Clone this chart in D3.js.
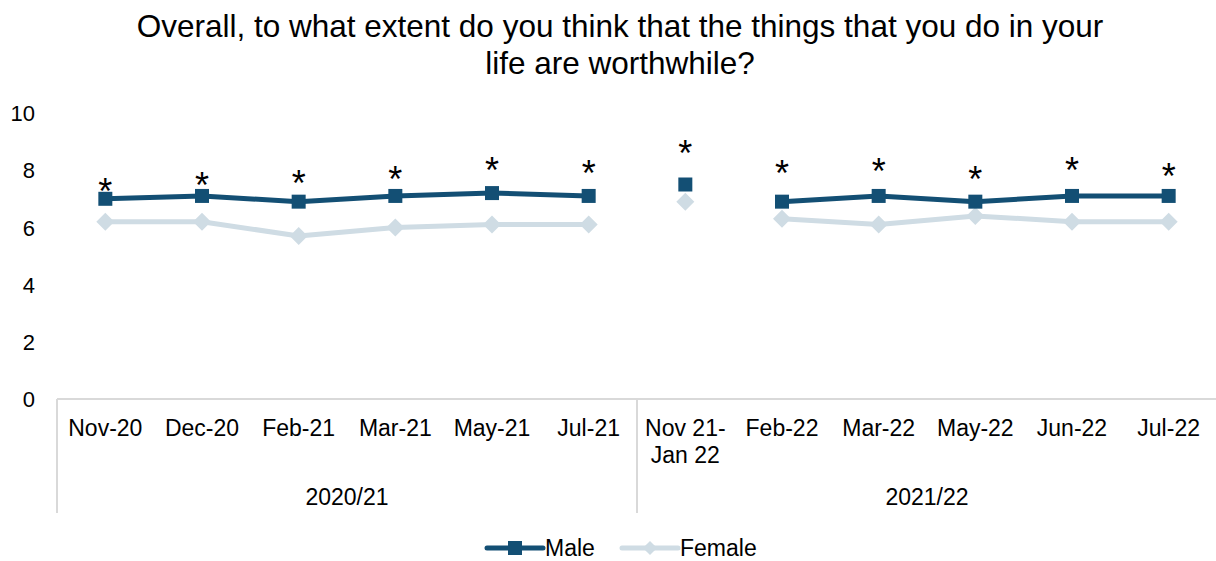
<!DOCTYPE html>
<html>
<head>
<meta charset="utf-8">
<script src="https://cdn.jsdelivr.net/npm/d3@7"></script>
<style>
  html, body { margin: 0; padding: 0; background: #fff; }
  svg { display: block; font-family: "Liberation Sans", Arial, sans-serif; }
</style>
</head>
<body>
<svg id="chart" width="1216" height="561"></svg>
<script>
// ---- data ----
const titleLines = ["Overall, to what extent do you think that the things that you do in your", "life are worthwhile?"];
const categories = ["Nov-20", "Dec-20", "Feb-21", "Mar-21", "May-21", "Jul-21", "Nov 21-\nJan 22", "Feb-22", "Mar-22", "May-22", "Jun-22", "Jul-22"];
const yearGroups = ["2020/21", "2020/21", "2020/21", "2020/21", "2020/21", "2020/21", "2021/22", "2021/22", "2021/22", "2021/22", "2021/22", "2021/22"];
const surveyWave = ["monthly", "monthly", "monthly", "monthly", "monthly", "monthly", "quarterly", "monthly", "monthly", "monthly", "monthly", "monthly"];
const maleValues = [7.0, 7.1, 6.9, 7.1, 7.2, 7.1, 7.5, 6.9, 7.1, 6.9, 7.1, 7.1];
const femaleValues = [6.2, 6.2, 5.7, 6.0, 6.1, 6.1, 6.9, 6.3, 6.1, 6.4, 6.2, 6.2];
const significant = [true, true, true, true, true, true, true, true, true, true, true, true];
const sigLabelLevel = [7.54, 7.74, 7.80, 7.96, 8.28, 8.15, 8.88, 8.18, 8.24, 7.95, 8.27, 8.07];
const yTicks = [0, 2, 4, 6, 8, 10];
const seriesNames = ["Male", "Female"];

// ---- styles ----
const maleColor = "#134f74";
const femaleColor = "#cfdce4";
const axisColor = "#d9d9d9";
const labelSize = 23;

const svg = d3.select("#chart");

const x = d3.scaleBand().domain(d3.range(categories.length)).range([57, 1217]).padding(0);
const y = d3.scaleLinear().domain([0, 10]).range([399, 113]);
const cx = i => x(i) + x.bandwidth() / 2;

// title
svg.append("g").selectAll("text").data(titleLines).join("text")
  .attr("x", 620).attr("y", (d, i) => 37 + i * 37)
  .attr("text-anchor", "middle").attr("font-size", 31.5).attr("fill", "#000")
  .text(d => d);

// y axis (labels only)
const yAxis = d3.axisLeft(y).tickValues(yTicks).tickSize(0).tickPadding(0).tickFormat(d3.format("d"));
const yg = svg.append("g").attr("transform", "translate(35,0)").call(yAxis);
yg.select(".domain").remove();
yg.selectAll("text").attr("font-size", 22).attr("font-family", "Liberation Sans, Arial, sans-serif").attr("fill", "#000").attr("dy", "0.35em");

// x axis line
svg.append("line").attr("x1", 57).attr("x2", 1217).attr("y1", y(0)).attr("y2", y(0))
  .attr("stroke", axisColor).attr("stroke-width", 2);

// group separators
const groupNames = Array.from(new Set(yearGroups));
const groupBounds = groupNames.map(g => {
  const idx = yearGroups.map((v, i) => v === g ? i : -1).filter(i => i >= 0);
  return { name: g, start: x(idx[0]), end: x(idx[idx.length - 1]) + x.bandwidth() };
});
const sepXs = [groupBounds[0].start, ...groupBounds.map(b => b.end)];
svg.append("g").selectAll("line").data(sepXs).join("line")
  .attr("x1", d => d).attr("x2", d => d).attr("y1", y(0)).attr("y2", 513)
  .attr("stroke", axisColor).attr("stroke-width", 2);

// category labels
const catG = svg.append("g").selectAll("text").data(categories).join("text")
  .attr("x", (d, i) => cx(i)).attr("y", 436)
  .attr("text-anchor", "middle").attr("font-size", labelSize).attr("fill", "#000");
catG.each(function(d, i) {
  const parts = d.split("\n");
  d3.select(this).selectAll("tspan").data(parts).join("tspan")
    .attr("x", cx(i)).attr("dy", (p, j) => j === 0 ? 0 : 27).text(p => p);
});

// group labels
svg.append("g").selectAll("text").data(groupBounds).join("text")
  .attr("x", d => (d.start + d.end) / 2).attr("y", 505)
  .attr("text-anchor", "middle").attr("font-size", labelSize).attr("fill", "#000")
  .text(d => d.name);

// line segments: consecutive monthly points within the same year group
function segments(values) {
  const segs = [];
  let cur = [];
  values.forEach((v, i) => {
    const ok = surveyWave[i] === "monthly";
    const sameGroup = cur.length && yearGroups[cur[cur.length - 1]] === yearGroups[i];
    if (ok && (cur.length === 0 || sameGroup)) cur.push(i);
    else { if (cur.length) segs.push(cur); cur = ok ? [i] : []; }
  });
  if (cur.length) segs.push(cur);
  return segs.filter(s => s.length > 1);
}
const line = d3.line().x(i => cx(i));

function drawSeries(values, color, shape, size) {
  const g = svg.append("g");
  g.selectAll("path.seg").data(segments(values)).join("path")
    .attr("class", "seg").attr("fill", "none").attr("stroke", color).attr("stroke-width", 5)
    .attr("stroke-linejoin", "round")
    .attr("d", seg => line.y(i => y(values[i]))(seg));
  g.selectAll("path.mk").data(values).join("path")
    .attr("class", "mk").attr("fill", color)
    .attr("transform", (v, i) => `translate(${cx(i)},${y(v)})` + (shape === "diamond" ? " rotate(45)" : ""))
    .attr("d", d3.symbol().type(d3.symbolSquare).size(size));
}
drawSeries(femaleValues, femaleColor, "diamond", 162);
drawSeries(maleValues, maleColor, "square", 196);

// significance asterisks
const astSize = 36;
svg.append("g").selectAll("text").data(categories.map((c, i) => i).filter(i => significant[i])).join("text")
  .attr("x", i => cx(i)).attr("y", i => y(sigLabelLevel[i]) + 0.57 * astSize)
  .attr("text-anchor", "middle").attr("font-size", astSize).attr("fill", "#000")
  .text("*");

// legend
const legend = svg.append("g").attr("transform", "translate(0,548)");
const legendItems = [
  { name: seriesNames[0], color: maleColor, shape: "square", size: 196, x0: 487 },
  { name: seriesNames[1], color: femaleColor, shape: "diamond", size: 100, x0: 622 }
];
legendItems.forEach(it => {
  legend.append("line").attr("x1", it.x0).attr("x2", it.x0 + 56).attr("y1", 0).attr("y2", 0)
    .attr("stroke", it.color).attr("stroke-width", 5).attr("stroke-linecap", "round");
  legend.append("path").attr("fill", it.color)
    .attr("transform", `translate(${it.x0 + 28},0)` + (it.shape === "diamond" ? " rotate(45)" : ""))
    .attr("d", d3.symbol().type(d3.symbolSquare).size(it.size));
  legend.append("text").attr("x", it.x0 + 58).attr("y", 0).attr("dy", "0.35em")
    .attr("font-size", labelSize).attr("fill", "#000").text(it.name);
});
</script>
</body>
</html>
